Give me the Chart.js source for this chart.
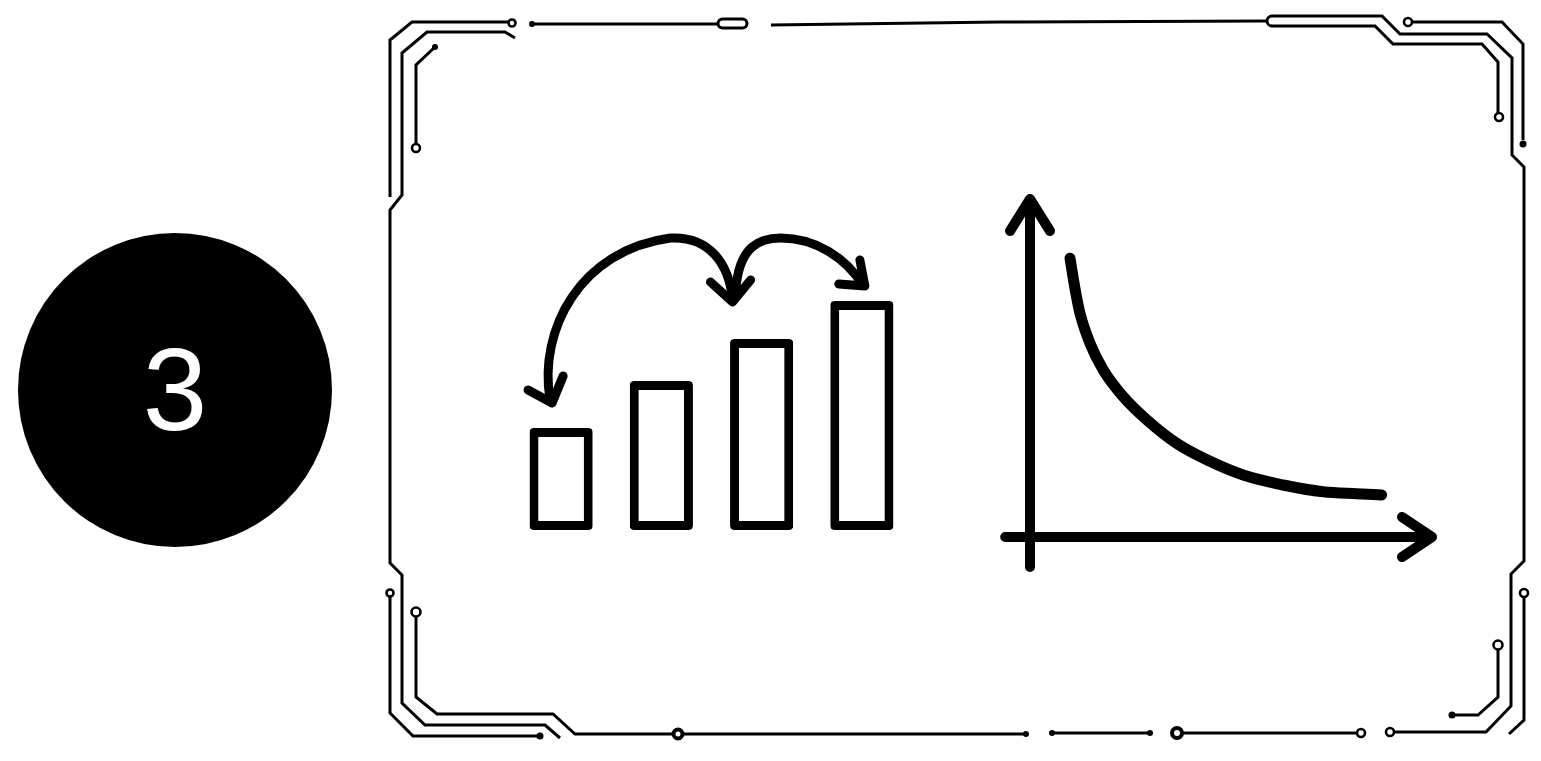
<!DOCTYPE html>
<html>
<head>
<meta charset="utf-8">
<title>Step 3</title>
<script src="https://cdn.jsdelivr.net/npm/chart.js@4.4.1/dist/chart.umd.min.js"></script>
<style>
  html, body { margin: 0; padding: 0; background: #fff; }
  body { width: 1541px; height: 761px; position: relative; overflow: hidden; }
  #frame { position: absolute; left: 0; top: 0; }
  #frame path { fill: none; stroke: #000; stroke-width: 3; stroke-linejoin: miter; }
  #frame .ring { fill: #fff; stroke: #000; stroke-width: 2.6; }
  #frame .dot { fill: #000; }
  .badge {
    position: absolute; left: 18px; top: 233px; width: 314px; height: 314px;
    border-radius: 50%; background: #000; color: #fff;
    display: flex; align-items: center; justify-content: center;
    font-family: "Liberation Sans", Arial, sans-serif; font-size: 116px;
  }
  canvas { position: absolute; }
  #barChart { left: 511px; top: 210px; }
  #curveChart { left: 990px; top: 177px; }
</style>
</head>
<body>

<div class="badge">3</div>

<!-- circuit style frame -->
<svg id="frame" width="1541" height="761">
  <path d="M390,197 L390,40 L412,22 L508,22"/>
  <circle class="ring" cx="512" cy="23" r="3.5"/>
  <path d="M515,38 L505,32 L427,32 L402,53 L402,195 L390,210 L390,563 L402,575 L402,703 L425,725 L545,725 L560,738"/>
  <path d="M416,144 L416,65 L435,47"/>
  <circle class="dot" cx="435" cy="47" r="3"/>
  <circle class="ring" cx="416" cy="148" r="4"/>

  <path d="M390,597 L390,713 L413,736 L540,736"/>
  <circle class="dot" cx="540" cy="736" r="3.5"/>
  <circle class="ring" cx="390" cy="593" r="3.5"/>
  <path d="M416,617 L416,697 L437,714 L553,714 L575,734 L1026,734"/>
  <circle class="dot" cx="1026" cy="734" r="3"/>
  <circle class="ring" cx="416" cy="612" r="4.5"/>
  <circle class="ring" cx="678" cy="734" r="4.5" style="stroke-width:4"/>

  <path d="M1052,733 L1150,733"/>
  <circle class="dot" cx="1052" cy="733" r="3"/>
  <circle class="dot" cx="1150" cy="733" r="3"/>
  <path d="M1183,733 L1357,733"/>
  <circle class="ring" cx="1177" cy="733" r="5" style="stroke-width:4"/>
  <circle class="ring" cx="1361" cy="733" r="4"/>

  <path d="M1394,732 L1486,732 L1511,706 L1511,574 L1524,561 L1524,167 L1512,155 L1512,58 L1487,34 L1400,34 L1382,16 L1272,16 A5,5 0 0 0 1272,26 L1375,26 L1393,44 L1482,44 L1498,62 L1498,113"/>
  <circle class="ring" cx="1390" cy="732" r="4"/>
  <circle class="ring" cx="1499" cy="117" r="4"/>
  <path d="M1412,22 L1502,22 L1523,44 L1523,140"/>
  <circle class="ring" cx="1408" cy="22" r="4"/>
  <circle class="dot" cx="1523" cy="144" r="3.5"/>
  <path d="M1452,715 L1478,715 L1498,697 L1498,650"/>
  <circle class="dot" cx="1452" cy="715" r="3.5"/>
  <circle class="ring" cx="1498" cy="645" r="4.5"/>
  <path d="M1524,597 L1524,720 L1509,734"/>
  <circle class="ring" cx="1524" cy="593" r="4"/>

  <path d="M532,24 L718,24"/>
  <circle class="dot" cx="532" cy="24" r="3"/>
  <rect x="718" y="19" width="29" height="9" rx="4.5" fill="#fff" stroke="#000" stroke-width="3"/>
  <path d="M771,25 L1000,22 L1267,21"/>
</svg>

<canvas id="barChart" width="401" height="320"></canvas>
<canvas id="curveChart" width="460" height="400"></canvas>

<script>
// bar sketch
const barLabels = ['1', '2', '3', '4'];
const barValues = [102, 149, 191, 229];

// hand drawn jump arrows over the bars, in [category index, value] units
const jumpArcLeft = [[-0.11, 130], [-0.23, 200], [0.19, 280], [1.09, 292], [1.49, 294], [1.67, 265], [1.71, 232]];
const jumpArcRight = [[1.74, 238], [1.77, 285], [1.99, 292], [2.19, 292], [2.54, 292], [2.84, 272], [3.01, 245]];
const arrowHeads = [
  [[-0.33, 140], [-0.09, 127], [0.02, 154]],
  [[1.49, 248], [1.71, 228], [1.89, 250]],
  [[2.77, 246], [3.03, 244], [2.98, 270]]
];

// decay curve sketch
const curveX = [1.0, 1.13, 1.25, 1.5, 1.83, 2.33, 2.92, 3.67, 4.42, 5.33, 6.33, 7.33, 8.17, 8.79];
const curveY = [6.97, 6.18, 5.59, 4.84, 4.18, 3.51, 2.93, 2.34, 1.93, 1.55, 1.3, 1.13, 1.08, 1.05];
const xAxisSpan = [-0.62, 10.05];
const yAxisSpan = [-0.75, 8.45];

function strokeStyle(ctx, w) {
  ctx.strokeStyle = '#000';
  ctx.lineWidth = w;
  ctx.lineCap = 'round';
  ctx.lineJoin = 'round';
}

const jumpArrows = {
  id: 'jumpArrows',
  afterDatasetsDraw(chart) {
    const ctx = chart.ctx;
    const xs = chart.scales.x, ys = chart.scales.y;
    const p = (pt) => [xs.getPixelForValue(pt[0]), ys.getPixelForValue(pt[1])];
    ctx.save();
    strokeStyle(ctx, 9);
    [jumpArcLeft, jumpArcRight].forEach(arc => {
      ctx.beginPath();
      const s = p(arc[0]);
      ctx.moveTo(s[0], s[1]);
      for (let i = 1; i + 2 < arc.length; i += 3) {
        const a = p(arc[i]), b = p(arc[i + 1]), c = p(arc[i + 2]);
        ctx.bezierCurveTo(a[0], a[1], b[0], b[1], c[0], c[1]);
      }
      ctx.stroke();
    });
    arrowHeads.forEach(h => {
      ctx.beginPath();
      h.forEach((pt, i) => {
        const q = p(pt);
        if (i === 0) ctx.moveTo(q[0], q[1]); else ctx.lineTo(q[0], q[1]);
      });
      ctx.stroke();
    });
    ctx.restore();
  }
};

new Chart(document.getElementById('barChart'), {
  type: 'bar',
  data: {
    labels: barLabels,
    datasets: [{
      data: barValues,
      backgroundColor: '#fff',
      borderColor: '#000',
      borderWidth: 9,
      borderRadius: 4,
      borderSkipped: false,
      categoryPercentage: 1,
      barPercentage: 0.63
    }]
  },
  options: {
    responsive: false,
    animation: false,
    layout: { padding: 0 },
    plugins: { legend: { display: false }, tooltip: { enabled: false } },
    scales: {
      x: { display: false },
      y: { display: false, min: 0, max: 320 }
    }
  },
  plugins: [jumpArrows]
});

const sketchAxes = {
  id: 'sketchAxes',
  beforeDatasetsDraw(chart) {
    const ctx = chart.ctx;
    const xs = chart.scales.x, ys = chart.scales.y;
    const px = v => xs.getPixelForValue(v), py = v => ys.getPixelForValue(v);
    ctx.save();
    strokeStyle(ctx, 10);
    ctx.beginPath();
    ctx.moveTo(px(xAxisSpan[0]), py(0));
    ctx.lineTo(px(xAxisSpan[1]), py(0));
    ctx.moveTo(px(0), py(yAxisSpan[0]));
    ctx.lineTo(px(0), py(yAxisSpan[1]));
    // arrow heads
    ctx.moveTo(px(xAxisSpan[1] - 0.75), py(0.5));
    ctx.lineTo(px(xAxisSpan[1]), py(0));
    ctx.lineTo(px(xAxisSpan[1] - 0.75), py(-0.5));
    ctx.moveTo(px(-0.5), py(yAxisSpan[1] - 0.8));
    ctx.lineTo(px(0), py(yAxisSpan[1]));
    ctx.lineTo(px(0.5), py(yAxisSpan[1] - 0.8));
    ctx.stroke();
    ctx.restore();
  }
};

new Chart(document.getElementById('curveChart'), {
  type: 'scatter',
  data: {
    datasets: [{
      data: curveX.map((x, i) => ({ x: x, y: curveY[i] })),
      showLine: true,
      borderColor: '#000',
      borderWidth: 11,
      borderCapStyle: 'round',
      borderJoinStyle: 'round',
      pointRadius: 0,
      cubicInterpolationMode: 'monotone',
      clip: false
    }]
  },
  options: {
    responsive: false,
    animation: false,
    layout: { padding: 0 },
    plugins: { legend: { display: false }, tooltip: { enabled: false } },
    scales: {
      x: { type: 'linear', display: false, min: -1, max: 10.5 },
      y: { type: 'linear', display: false, min: -1, max: 9 }
    }
  },
  plugins: [sketchAxes]
});
</script>
</body>
</html>
